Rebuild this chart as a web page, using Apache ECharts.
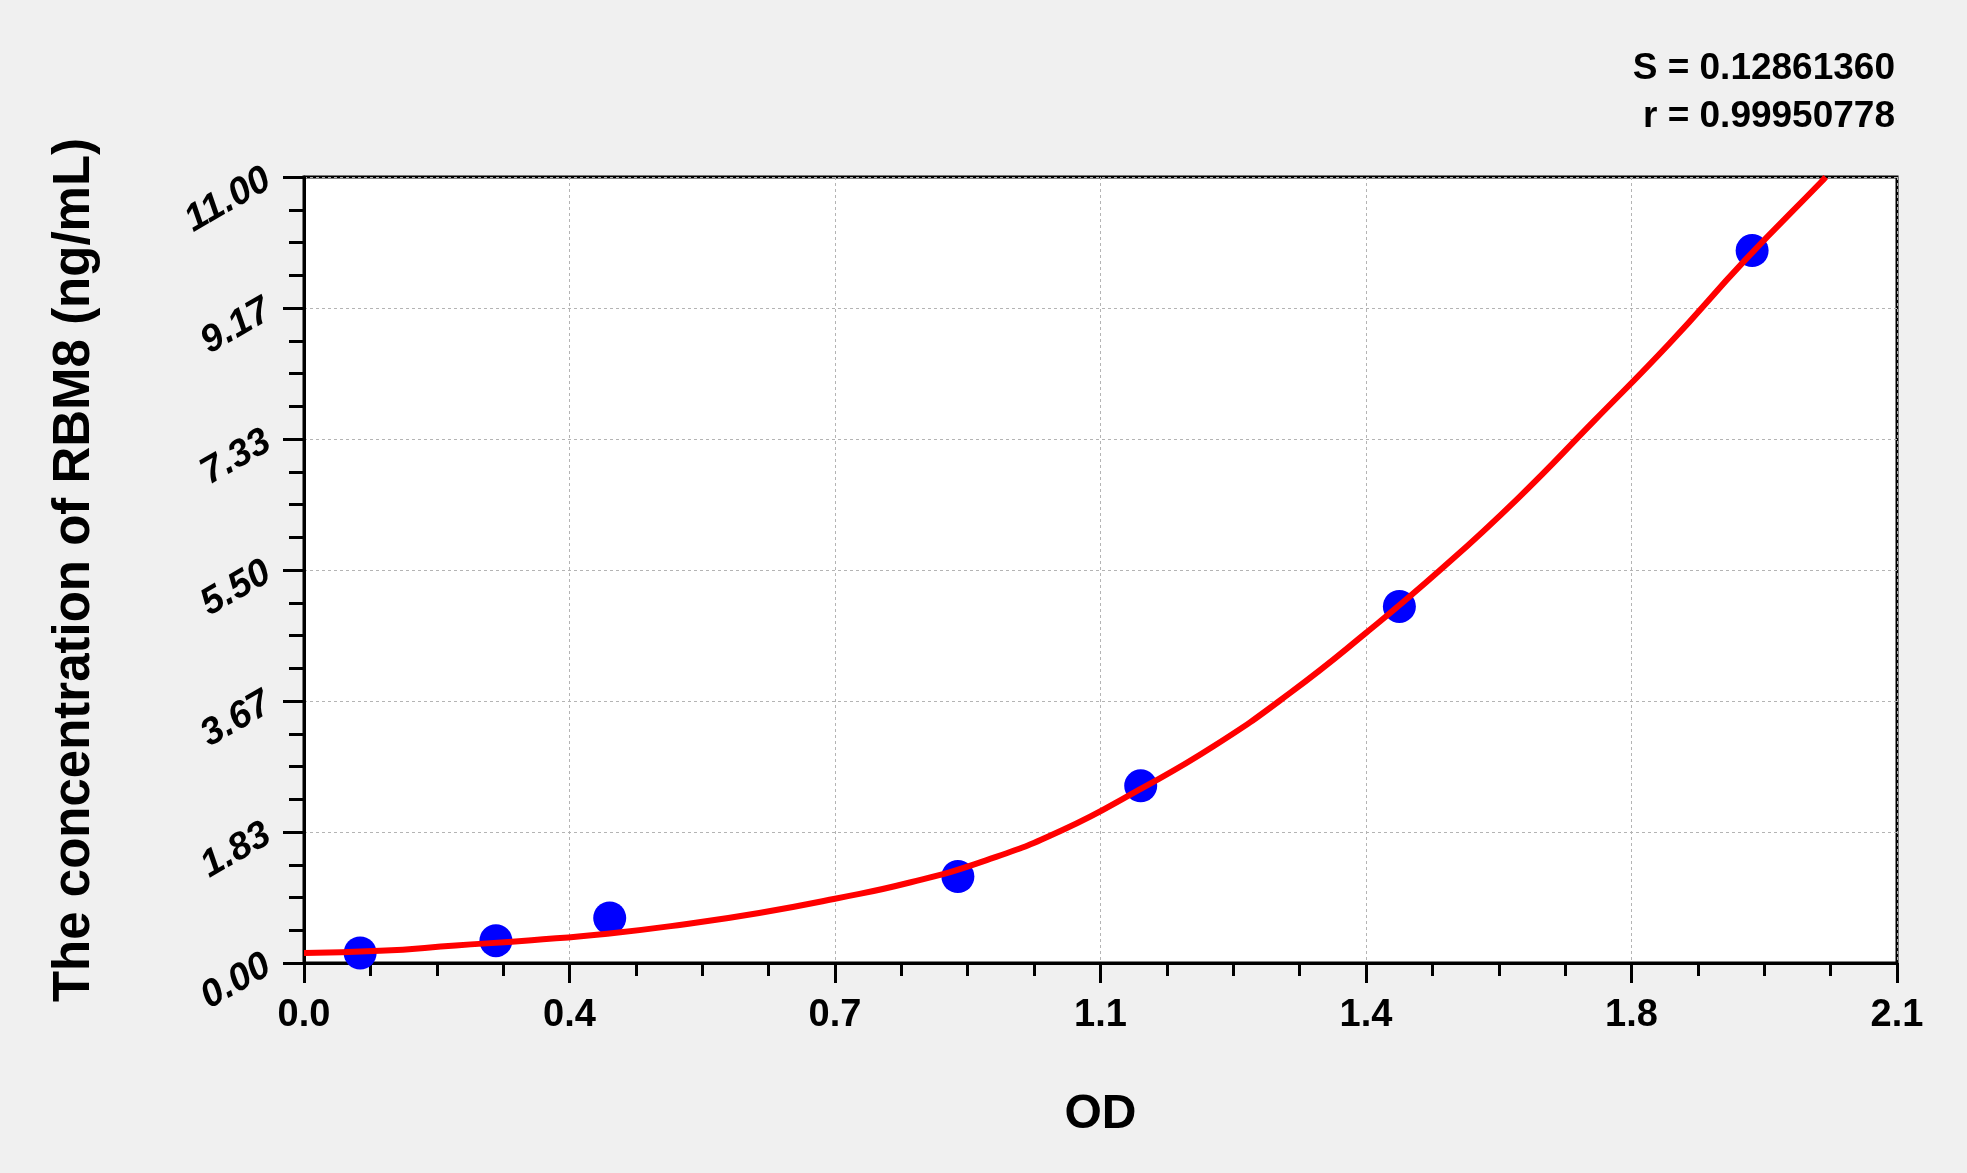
<!DOCTYPE html>
<html>
<head>
<meta charset="utf-8">
<script src="https://cdn.jsdelivr.net/npm/echarts@6/dist/echarts.min.js"></script>
<style>
html,body{margin:0;padding:0;background:#f0f0f0;}
#c{width:1967px;height:1173px;}
</style>
</head>
<body>
<div id="c"></div>
<script>
// Standard points (OD vs concentration)
var odValues = [0.074, 0.253, 0.403, 0.862, 1.103, 1.444, 1.909];
var concValues = [0.14, 0.312, 0.63, 1.21, 2.48, 4.99, 9.97];
// Fitted curve
var curveOD   = [0.0, 0.1, 0.2, 0.3, 0.4, 0.5, 0.6, 0.7, 0.8, 0.9, 1.0, 1.1, 1.2, 1.3, 1.4, 1.5, 1.6, 1.7, 1.8, 1.9, 2.0, 2.006];
var curveConc = [0.14, 0.17, 0.245, 0.32, 0.41, 0.54, 0.70, 0.90, 1.13, 1.44, 1.86, 2.42, 3.04, 3.78, 4.62, 5.52, 6.50, 7.58, 8.67, 9.84, 10.93, 11.0];
// Tick labels
var xTickLabels = ['0.0', '0.4', '0.7', '1.1', '1.4', '1.8', '2.1'];
var yTickLabels = ['0.00', '1.83', '3.67', '5.50', '7.33', '9.17', '11.00'];
var statsLines = ['S = 0.12861360', 'r = 0.99950778'];
var xTitle = 'OD';
var yTitle = 'The concentration of RBM8 (ng/mL)';

var X_INT = 0.35, X_MAX = 2.1;
var Y_MAX = 11, Y_INT = 11 / 6;
var FONT = '"Liberation Sans", Arial, sans-serif';

var chart = echarts.init(document.getElementById('c'));
var gridLine = {show: true, lineStyle: {color: '#b4b4b4', width: 1, type: [3, 3]}};

chart.setOption({
  animation: false,
  backgroundColor: '#f0f0f0',
  graphic: [{
    type: 'text', x: 1895, y: 45, z: 10,
    style: {
      text: statsLines.join('\n'),
      align: 'right', verticalAlign: 'top',
      fontFamily: FONT, fontSize: 37, fontWeight: 'bold', fill: '#000', lineHeight: 48
    }
  }],
  grid: {
    left: 304, right: 70, top: 177, bottom: 210,
    show: true, backgroundColor: '#ffffff', borderColor: '#000', borderWidth: 3,
    containLabel: false
  },
  xAxis: {
    type: 'value', min: 0, max: X_MAX, interval: X_INT,
    name: xTitle, nameLocation: 'middle', nameGap: 128,
    nameTextStyle: {fontFamily: FONT, fontSize: 48, fontWeight: 'bold', color: '#000'},
    axisLine: {show: true, lineStyle: {color: '#000', width: 3}},
    axisTick: {show: true, length: 20, lineStyle: {color: '#000', width: 3}},
    minorTick: {show: true, splitNumber: 4, length: 13, lineStyle: {color: '#000', width: 3}},
    splitLine: gridLine,
    axisLabel: {
      margin: 34, fontFamily: FONT, fontSize: 38, fontWeight: 'bold', color: '#000',
      formatter: function (v) { return xTickLabels[Math.round(v / X_INT)]; }
    }
  },
  yAxis: {
    type: 'value', min: 0, max: Y_MAX, interval: Y_INT,
    name: yTitle, nameLocation: 'middle', nameGap: 204,
    nameTextStyle: {fontFamily: FONT, fontSize: 51, fontWeight: 'bold', color: '#000'},
    axisLine: {show: true, lineStyle: {color: '#000', width: 3}},
    axisTick: {show: true, length: 21, lineStyle: {color: '#000', width: 3}},
    minorTick: {show: true, splitNumber: 4, length: 15, lineStyle: {color: '#000', width: 3}},
    splitLine: gridLine,
    axisLabel: {
      margin: 36, rotate: 30, fontFamily: FONT, fontSize: 38, fontWeight: 'bold', fontStyle: 'italic', color: '#000',
      formatter: function (v) { return yTickLabels[Math.round(v / Y_INT)]; }
    }
  },
  series: [
    {
      type: 'scatter', z: 2,
      data: odValues.map(function (x, i) { return [x, concValues[i]]; }),
      symbol: 'circle', symbolSize: 33,
      itemStyle: {color: '#0000ff', opacity: 1}
    },
    {
      type: 'line', z: 3, smooth: true, showSymbol: false, clip: false,
      data: curveOD.map(function (x, i) { return [x, curveConc[i]]; }),
      lineStyle: {color: '#ff0000', width: 6}
    }
  ]
});
</script>
</body>
</html>
